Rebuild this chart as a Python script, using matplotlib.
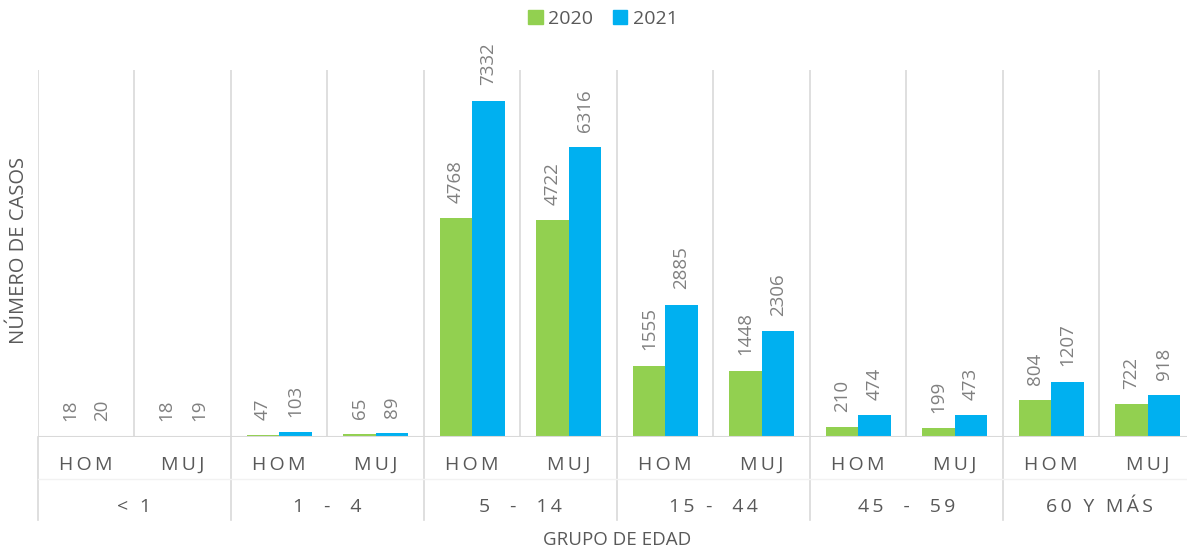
import matplotlib
matplotlib.use("Agg")
import matplotlib.pyplot as plt
from matplotlib.patches import Patch
import numpy as np

plt.rcParams['font.family'] = ['Open Sans', 'DejaVu Sans']

age_groups = ["< 1", "1  -  4", "5  -  14", "15 -  44", "45  -  59", "60 Y MÁS"]
sexes = ["HOM", "MUJ"]
cases_2020 = [18, 18, 47, 65, 4768, 4722, 1555, 1448, 210, 199, 804, 722]
cases_2021 = [20, 19, 103, 89, 7332, 6316, 2885, 2306, 474, 473, 1207, 918]
series_labels = ["2020", "2021"]

GREEN = "#92D050"
BLUE = "#00B0F0"
TEXT = "#595959"
VAL = "#808080"
GRID = "#D9D9D9"


def spaced(s):
    return "\u2009".join(s)


W, H = 1187, 552
fig = plt.figure(figsize=(W / 100, H / 100), dpi=100)
left_px, right_px, top_px, base_px = 38, 1196, 70, 437
ax = fig.add_axes([left_px / W, 1 - base_px / H, (right_px - left_px) / W, (base_px - top_px) / H])

n = len(cases_2020)
x = np.arange(n)
bw = 0.335
ax.bar(x - bw / 2, cases_2020, bw, color=GREEN, zorder=3)
ax.bar(x + bw / 2, cases_2021, bw, color=BLUE, zorder=3)

for xi, v in zip(x - bw / 2, cases_2020):
    ax.annotate(str(v), (xi, v), xytext=(0, 11), textcoords="offset points",
                rotation=90, ha="center", va="bottom", color=VAL, fontsize=13.5)
for xi, v in zip(x + bw / 2, cases_2021):
    ax.annotate(str(v), (xi, v), xytext=(0, 11), textcoords="offset points",
                rotation=90, ha="center", va="bottom", color=VAL, fontsize=13.5)

ax.set_xlim(-0.5, n - 0.5)
ax.set_ylim(0, 8000)
for s in ax.spines.values():
    s.set_visible(False)
ax.set_xticks([])
ax.set_yticks([])

# category separators inside the plot
for b in np.arange(n + 1) - 0.5:
    ax.axvline(b, color=GRID, lw=1.2, zorder=1)
ax.axhline(0, color=GRID, lw=1.5, zorder=4)

# two-level category axis below the plot
trans = ax.get_xaxis_transform()
px = 1.0 / (base_px - top_px)
for g in range(len(age_groups) + 1):
    b = 2 * g - 0.5
    ax.plot([b, b], [0, -(520 - base_px) * px], transform=trans, color=GRID,
            lw=1.2, clip_on=False)
ax.plot([-0.5, n - 0.5], [-(479 - base_px) * px] * 2, transform=trans,
        color="#F2F2F2", lw=1, clip_on=False)

for i in range(n):
    ax.text(i, -(465 - base_px) * px, spaced(sexes[i % 2]), transform=trans,
            ha="center", va="center", color=TEXT, fontsize=14)
for g, name in enumerate(age_groups):
    ax.text(2 * g + 0.5, -(507 - base_px) * px, spaced(name), transform=trans,
            ha="center", va="center", color=TEXT, fontsize=14)

fig.text(617 / W, 1 - 540 / H, "GRUPO DE EDAD", ha="center", va="center",
         color=TEXT, fontsize=13.5)
fig.text(19 / W, 1 - 250 / H, "NÚMERO DE CASOS", ha="center", va="center",
         rotation=90, color=TEXT, fontsize=14.5)

handles = [Patch(color=GREEN), Patch(color=BLUE)]
fig.legend(handles, series_labels, loc="center", bbox_to_anchor=(603 / W, 1 - 19 / H),
           ncol=2, frameon=False, fontsize=14, handlelength=0.75, handleheight=0.75,
           handletextpad=0.3, columnspacing=1.0, labelcolor=TEXT)

fig.savefig("out.png", dpi=100)
